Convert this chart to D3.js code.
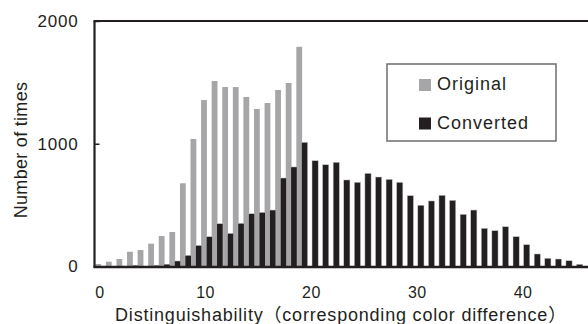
<!DOCTYPE html>
<html>
<head>
<meta charset="utf-8">
<script src="https://cdn.jsdelivr.net/npm/d3@7"></script>
<style>
  body { margin: 0; background: #fff; }
  text { font-family: "Liberation Sans", Arial, "Noto Sans CJK JP", sans-serif; fill: #231f20; }
</style>
</head>
<body>
<svg id="chart" width="588" height="324"></svg>
<script>
const bins = [0, 1, 2, 3, 4, 5, 6, 7, 8, 9, 10, 11, 12, 13, 14, 15, 16, 17, 18, 19, 20, 21, 22,
  23, 24, 25, 26, 27, 28, 29, 30, 31, 32, 33, 34, 35, 36, 37, 38, 39, 40, 41, 42, 43, 44, 45];

const original = [20, 39, 61, 120, 134, 186, 248, 281, 678, 1039, 1356, 1511, 1462, 1462, 1381,
  1283, 1332, 1438, 1495, 1790, 0, 0, 0, 0, 0, 0, 0, 0, 0, 0, 0, 0, 0, 0, 0, 0, 0, 0, 0, 0, 0,
  0, 0, 0, 0, 0];

const converted = [3, 2, 2, 10, 2, 10, 19, 45, 91, 172, 243, 349, 270, 352, 430, 441, 460, 721,
  811, 1012, 862, 829, 849, 705, 686, 759, 729, 710, 686, 577, 499, 534, 580, 539, 425, 460,
  311, 292, 324, 243, 178, 102, 67, 61, 47, 18];

const xTicks = [0, 10, 20, 30, 40];
const yTicks = [0, 1000, 2000];
const seriesNames = ['Original', 'Converted'];

const width = 588;
const height = 324;
const plotLeft = 94.5;
const plotTop = 21;
const plotBottom = 266.5;
const step = 10.58;

const grayColor = '#a6a6a8';
const darkColor = '#231f20';

const svg = d3.select('#chart');

const x = d3.scaleBand()
  .domain(bins)
  .range([plotLeft, plotLeft + bins.length * step])
  .padding(0);

const y = d3.scaleLinear()
  .domain([0, 2000])
  .range([plotBottom, plotTop]);

// bars, converted drawn over original (slight overlap like the excel chart)
svg.append('g')
  .selectAll('rect')
  .data(bins)
  .enter().append('rect')
  .attr('x', d => x(d) + 0.8)
  .attr('y', (d, i) => y(original[i]))
  .attr('width', 5.8)
  .attr('height', (d, i) => y(0) - y(original[i]))
  .attr('fill', grayColor);

svg.append('g')
  .selectAll('rect')
  .data(bins)
  .enter().append('rect')
  .attr('x', d => x(d) + 5.9)
  .attr('y', (d, i) => y(converted[i]))
  .attr('width', 6.2)
  .attr('height', (d, i) => y(0) - y(converted[i]))
  .attr('fill', darkColor)
  .attr('stroke', '#c9c9c9')
  .attr('stroke-width', 0.5);

// frame lines
svg.append('line')
  .attr('x1', plotLeft).attr('x2', plotLeft)
  .attr('y1', plotTop).attr('y2', plotBottom + 1)
  .attr('stroke', darkColor).attr('stroke-width', 2.2);

svg.append('line')
  .attr('x1', plotLeft - 1).attr('x2', width)
  .attr('y1', plotTop).attr('y2', plotTop)
  .attr('stroke', darkColor).attr('stroke-width', 2);

svg.append('line')
  .attr('x1', plotLeft - 1).attr('x2', width)
  .attr('y1', plotBottom + 0.5).attr('y2', plotBottom + 0.5)
  .attr('stroke', darkColor).attr('stroke-width', 2.5);

// y axis
const yAxis = svg.append('g')
  .attr('transform', `translate(${plotLeft},0)`)
  .call(d3.axisLeft(y).tickValues(yTicks).tickFormat(d3.format('d'))
    .tickSizeInner(-5).tickSizeOuter(0).tickPadding(16));
yAxis.select('.domain').remove();
yAxis.selectAll('.tick line').attr('stroke', darkColor).attr('stroke-width', 1.5);
yAxis.selectAll('text')
  .attr('fill', darkColor)
  .style('font-size', '17px')
  .style('letter-spacing', '0.8px')
  .style('font-family', '"Liberation Sans", Arial, sans-serif');

// x axis
const xAxis = svg.append('g')
  .attr('transform', `translate(0,${plotBottom})`)
  .call(d3.axisBottom(x).tickValues(xTicks).tickSize(0).tickPadding(20));
xAxis.select('.domain').remove();
xAxis.selectAll('text')
  .attr('fill', darkColor)
  .style('font-size', '16px')
  .style('letter-spacing', '0.4px')
  .style('font-family', '"Liberation Sans", Arial, sans-serif');

// axis titles
svg.append('text')
  .attr('transform', 'rotate(-90)')
  .attr('x', -150)
  .attr('y', 27)
  .attr('text-anchor', 'middle')
  .style('font-size', '18px')
  .style('letter-spacing', '0.3px')
  .text('Number of times');

svg.append('text')
  .attr('x', 341)
  .attr('y', 320.5)
  .attr('text-anchor', 'middle')
  .style('font-size', '18px')
  .style('letter-spacing', '0.8px')
  .text('Distinguishability（corresponding color difference）');

// legend
const legend = svg.append('g')
  .attr('transform', 'translate(387,64)');

legend.append('rect')
  .attr('width', 169)
  .attr('height', 77)
  .attr('fill', '#fff')
  .attr('stroke', '#6d6d6d')
  .attr('stroke-width', 1.5);

const legendItems = legend.selectAll('.legend-item')
  .data(seriesNames)
  .enter().append('g')
  .attr('class', 'legend-item')
  .attr('transform', (d, i) => `translate(32, ${15 + i * 38.5})`);

legendItems.append('rect')
  .attr('width', 12)
  .attr('height', 12)
  .attr('fill', (d, i) => i === 0 ? grayColor : darkColor);

legendItems.append('text')
  .attr('x', 18)
  .attr('y', 11)
  .style('font-size', '18px')
  .style('letter-spacing', '1px')
  .text(d => d);
</script>
</body>
</html>
